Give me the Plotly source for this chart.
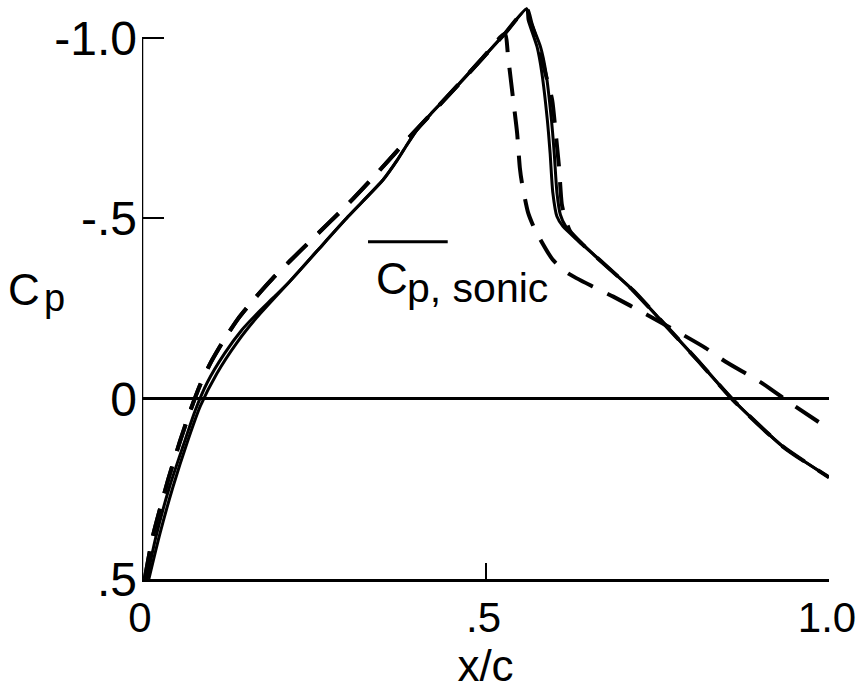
import plotly.graph_objects as go

# Pressure distribution Cp versus chordwise station x/c

# Solid curve 1
x_solid_1 = [0.010, 0.026, 0.045, 0.066, 0.085, 0.109, 0.138, 0.167, 0.215, 0.255,
             0.300, 0.351, 0.371, 0.386, 0.400, 0.420, 0.448, 0.496, 0.528, 0.560,
             0.562, 0.575, 0.582, 0.590, 0.594, 0.598, 0.604, 0.613, 0.633, 0.667,
             0.715, 0.754, 0.808, 0.860, 0.933, 1.000]
cp_solid_1 = [0.500, 0.375, 0.245, 0.120, 0.020, -0.070, -0.155, -0.225, -0.325, -0.410,
              -0.505, -0.607, -0.660, -0.705, -0.745, -0.789, -0.845, -0.945, -1.012, -1.081,
              -1.051, -0.976, -0.904, -0.773, -0.682, -0.571, -0.505, -0.477, -0.441, -0.383,
              -0.300, -0.220, -0.108, 0.003, 0.133, 0.218]

# Solid curve 2
x_solid_2 = [0.007, 0.020, 0.040, 0.060, 0.078, 0.095, 0.120, 0.145, 0.167, 0.190,
             0.215, 0.255, 0.300, 0.351, 0.371, 0.386, 0.400, 0.420, 0.448, 0.496,
             0.528, 0.560, 0.565, 0.580, 0.588, 0.596, 0.600, 0.604, 0.609, 0.617,
             0.633, 0.667, 0.715, 0.754, 0.808, 0.860, 0.933, 1.000]
cp_solid_2 = [0.500, 0.385, 0.245, 0.130, 0.030, -0.045, -0.125, -0.190, -0.235, -0.278,
              -0.325, -0.410, -0.505, -0.607, -0.660, -0.705, -0.745, -0.789, -0.845, -0.945,
              -1.012, -1.081, -1.050, -0.976, -0.904, -0.773, -0.682, -0.571, -0.510, -0.477,
              -0.445, -0.383, -0.300, -0.220, -0.108, 0.003, 0.133, 0.218]

# Dashed curve 1 (aft shock)
x_dash_1 = [0.004, 0.016, 0.038, 0.055, 0.070, 0.085, 0.100, 0.120, 0.140, 0.165,
            0.190, 0.215, 0.247, 0.300, 0.342, 0.394, 0.448, 0.496, 0.528, 0.560,
            0.567, 0.580, 0.587, 0.597, 0.602, 0.607, 0.611, 0.616, 0.623, 0.640,
            0.667, 0.715, 0.754, 0.808, 0.860, 0.933, 1.000]
cp_dash_1 = [0.500, 0.380, 0.225, 0.120, 0.035, -0.040, -0.100, -0.165, -0.222, -0.280,
             -0.333, -0.381, -0.441, -0.540, -0.625, -0.735, -0.845, -0.945, -1.012, -1.081,
             -1.040, -0.960, -0.904, -0.829, -0.740, -0.643, -0.540, -0.500, -0.465, -0.430,
             -0.383, -0.300, -0.220, -0.108, 0.003, 0.133, 0.218]

# Dashed curve 2 (forward shock)
x_dash_2 = [0.004, 0.016, 0.038, 0.055, 0.070, 0.085, 0.100, 0.120, 0.140, 0.165,
            0.190, 0.215, 0.247, 0.300, 0.342, 0.394, 0.448, 0.496, 0.528, 0.533,
            0.540, 0.546, 0.550, 0.553, 0.562, 0.572, 0.598, 0.619, 0.656, 0.686,
            0.735, 0.769, 0.820, 0.849, 0.902, 0.943, 0.997]
cp_dash_2 = [0.500, 0.380, 0.225, 0.120, 0.035, -0.040, -0.100, -0.165, -0.222, -0.280,
             -0.333, -0.381, -0.441, -0.540, -0.625, -0.735, -0.845, -0.945, -1.012, -0.945,
             -0.834, -0.737, -0.640, -0.599, -0.516, -0.469, -0.385, -0.349, -0.311, -0.283,
             -0.233, -0.197, -0.141, -0.103, -0.044, 0.011, 0.080]

# Sonic pressure level marker
x_sonic = [0.329, 0.445]
cp_sonic = -0.435

# Axis ticks
x_tickvals = [0.0, 0.5, 1.0]
x_ticktext = ["0", ".5", "1.0"]
y_tickvals = [-1.0, -0.5, 0.0, 0.5]
y_ticktext = ["-1.0", "-.5", "0", ".5"]

FONT = "Liberation Sans"
INK = "black"

fig = go.Figure()

for xs, ys in [(x_solid_1, cp_solid_1), (x_solid_2, cp_solid_2)]:
    fig.add_trace(go.Scatter(
        x=xs, y=ys, mode="lines",
        line=dict(color=INK, width=3, shape="spline", smoothing=0.6),
        hoverinfo="skip",
    ))

for xs, ys in [(x_dash_1, cp_dash_1), (x_dash_2, cp_dash_2)]:
    fig.add_trace(go.Scatter(
        x=xs, y=ys, mode="lines",
        line=dict(color=INK, width=4, dash="28px,16px", shape="spline", smoothing=0.6),
        hoverinfo="skip",
    ))

fig.add_trace(go.Scatter(
    x=x_sonic, y=[cp_sonic, cp_sonic], mode="lines",
    line=dict(color=INK, width=3), hoverinfo="skip",
))

# Left axis line, from the top tick down to the bottom axis
fig.add_shape(type="line", xref="x", yref="y",
              x0=0, x1=0, y0=y_tickvals[0], y1=y_tickvals[-1],
              line=dict(color=INK, width=2.5))

# Cp,sonic label
fig.add_annotation(x=0.364, y=-0.333, xref="x", yref="y", text="C",
                   showarrow=False, font=dict(family=FONT, size=44, color=INK),
                   xanchor="center", yanchor="middle")
fig.add_annotation(x=0.383, y=-0.306, xref="x", yref="y", text="p, sonic",
                   showarrow=False, font=dict(family=FONT, size=41, color=INK),
                   xanchor="left", yanchor="middle")

# Y axis title Cp
fig.add_annotation(x=-0.172, y=-0.303, xref="paper", yref="y", text="C",
                   showarrow=False, font=dict(family=FONT, size=44, color=INK),
                   xanchor="center", yanchor="middle")
fig.add_annotation(x=-0.128, y=-0.280, xref="paper", yref="y", text="p",
                   showarrow=False, font=dict(family=FONT, size=38, color=INK),
                   xanchor="center", yanchor="middle")

fig.update_layout(
    width=857, height=696,
    margin=dict(l=142, r=28, t=2, b=117),
    paper_bgcolor="white", plot_bgcolor="white",
    showlegend=False,
    font=dict(family=FONT, color=INK),
    xaxis=dict(
        range=[0, 1], showgrid=False, zeroline=False,
        showline=True, linecolor=INK, linewidth=2.5,
        tickvals=x_tickvals, ticktext=x_ticktext,
        ticks="inside", ticklen=16, tickwidth=2, tickcolor=INK,
        tickfont=dict(family=FONT, size=42, color=INK),
        ticklabeloverflow="allow", ticklabelshift=-2,
        title=dict(text="x/c", font=dict(family=FONT, size=44, color=INK), standoff=6),
    ),
    yaxis=dict(
        range=[0.5, -1.1], showgrid=False,
        zeroline=True, zerolinecolor=INK, zerolinewidth=3,
        showline=False,
        tickvals=y_tickvals, ticktext=y_ticktext,
        ticks="inside", ticklen=22, tickwidth=2, tickcolor=INK,
        tickfont=dict(family=FONT, size=48, color=INK),
        ticklabelstandoff=4,
    ),
)

fig.write_html("out.html")
